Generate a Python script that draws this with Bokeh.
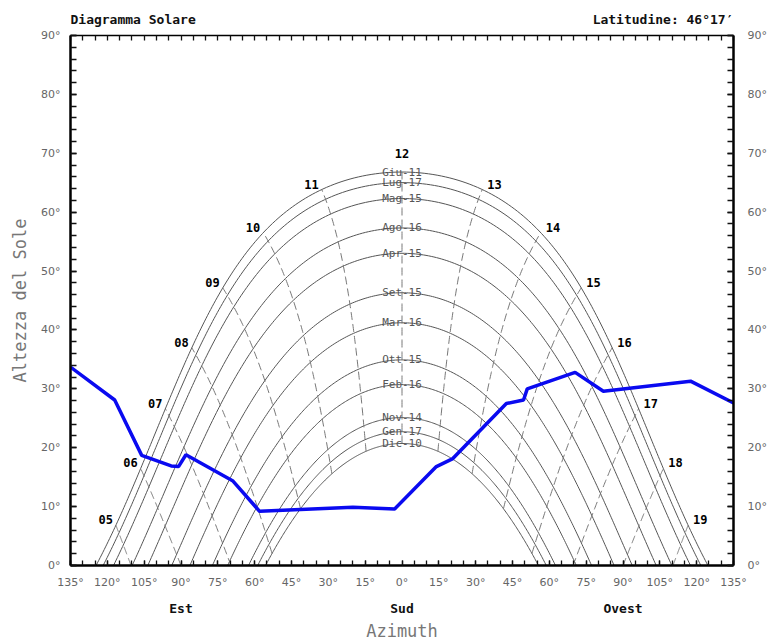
import numpy as np
from bokeh.plotting import figure
from bokeh.models import (Range1d, LinearAxis, SingleIntervalTicker, FixedTicker)
from bokeh.embed import file_html
from bokeh.resources import INLINE
from bokeh.core.properties import value

# ---------------- data ----------------
LATITUDE_DEG = 46 + 17 / 60.0
title_left = "Diagramma Solare"
title_right = "Latitudine: 46°17′"

date_labels = ["Giu-11", "Lug-17", "Mag-15", "Ago-16", "Apr-15", "Set-15",
               "Mar-16", "Ott-15", "Feb-16", "Nov-14", "Gen-17", "Dic-10"]
declinations = [23.1, 21.3, 18.6, 13.6, 9.3, 2.6, -2.5, -8.8, -13.0, -18.6, -21.0, -23.0]

hours = [5, 6, 7, 8, 9, 10, 11, 12, 13, 14, 15, 16, 17, 18, 19]
hour_labels = ["05", "06", "07", "08", "09", "10", "11", "12", "13", "14", "15", "16", "17", "18", "19"]

# horizon profile (azimuth from South, East negative; altitude in deg)
horizon_az = [-135, -117, -106, -94, -91, -88, -69, -58, -20, -3, 14, 20.5, 42.5, 49.5, 51, 70.5, 82, 117.5, 135]
horizon_alt = [33.7, 28.1, 18.7, 16.9, 16.8, 18.8, 14.4, 9.2, 9.9, 9.6, 16.8, 18.1, 27.5, 28.1, 30.0, 32.8, 29.6, 31.3, 27.6]

x_ticks = list(range(-135, 136, 15))
y_ticks = list(range(0, 91, 10))
cardinal_ticks = [-90, 0, 90]
cardinal_labels = ["Est", "Sud", "Ovest"]

# ---------------- solar geometry ----------------
phi = np.radians(LATITUDE_DEG)


def sun_pos(dec_deg, ha_deg):
    d = np.radians(dec_deg)
    h = np.radians(ha_deg)
    alt = np.degrees(np.arcsin(np.sin(phi) * np.sin(d) + np.cos(phi) * np.cos(d) * np.cos(h)))
    az = np.degrees(np.arctan2(np.sin(h), np.sin(phi) * np.cos(h) - np.cos(phi) * np.tan(d)))
    return az, alt


curve_xs, curve_ys = [], []
for dec in declinations:
    h0 = np.degrees(np.arccos(-np.tan(phi) * np.tan(np.radians(dec))))
    ha = np.linspace(-h0, h0, 301)
    az, alt = sun_pos(dec, ha)
    curve_xs.append(list(az))
    curve_ys.append(list(np.maximum(alt, 0)))

dmin, dmax = min(declinations), max(declinations)
hour_xs, hour_ys = [], []
lab_m, lab_a, lab_n = {"x": [], "y": [], "t": []}, {"x": [], "y": [], "t": []}, {"x": [], "y": [], "t": []}
for hr, lab in zip(hours, hour_labels):
    ha = 15.0 * (hr - 12)
    d0 = np.degrees(np.arctan(-np.cos(np.radians(ha)) / np.tan(phi)))
    lo = max(dmin, d0)
    if lo >= dmax:
        continue
    decs = np.linspace(lo, dmax, 120)
    az, alt = sun_pos(decs, ha)
    hour_xs.append(list(az))
    hour_ys.append(list(np.maximum(alt, 0)))
    ax_, al_ = sun_pos(dmax, ha)
    tgt = lab_m if hr < 12 else (lab_a if hr > 12 else lab_n)
    tgt["x"].append(float(ax_))
    tgt["y"].append(float(al_))
    tgt["t"].append(lab)

noon_alt = [float(sun_pos(d, 0.0)[1]) for d in declinations]

# ---------------- figure ----------------
MONO = "DejaVu Sans Mono"
SANS = "DejaVu Sans"
W, H = 770, 644
B_LEFT, B_RIGHT, B_TOP, B_BOTTOM = 70, 37, 35, 79
FRAME_W = W - B_LEFT - B_RIGHT

p = figure(width=W, height=H, x_range=Range1d(-135, 135), y_range=Range1d(0, 90),
           output_backend="svg", toolbar_location=None,
           x_axis_location=None, y_axis_location=None,
           min_border_left=B_LEFT, min_border_right=B_RIGHT,
           min_border_top=B_TOP, min_border_bottom=B_BOTTOM)
p.outline_line_color = None
p.xgrid.visible = False
p.ygrid.visible = False
p.background_fill_color = "white"
p.border_fill_color = "white"


def style_axis(ax, tick_len=6, lw=2):
    ax.axis_line_color = "black"
    ax.axis_line_width = lw
    ax.major_tick_in = tick_len
    ax.major_tick_out = 0
    ax.minor_tick_in = tick_len
    ax.minor_tick_out = 0
    ax.major_tick_line_color = "#111111"
    ax.minor_tick_line_color = "#111111"
    ax.major_tick_line_width = 1.3
    ax.minor_tick_line_width = 1.3
    ax.major_label_text_font = SANS
    ax.major_label_text_font_size = "11px"
    ax.major_label_text_color = "#666666"


x_over = {v: f"{abs(v)}°" for v in x_ticks}
y_over = {v: f"{v}°" for v in y_ticks}

left = LinearAxis(ticker=SingleIntervalTicker(interval=10, num_minor_ticks=5))
style_axis(left, 6, 2.5)
left.major_label_overrides = y_over
left.major_label_standoff = 10
left.axis_label = "Altezza del Sole"
left.axis_label_text_font = MONO
left.axis_label_text_font_size = "17px"
left.axis_label_text_font_style = "normal"
left.axis_label_text_color = "#777777"
left.axis_label_standoff = 8
p.add_layout(left, "left")

right = LinearAxis(ticker=SingleIntervalTicker(interval=10, num_minor_ticks=5))
style_axis(right, 6, 2.5)
right.major_label_overrides = y_over
right.major_label_standoff = 14
p.add_layout(right, "right")

bottom = LinearAxis(ticker=SingleIntervalTicker(interval=15, num_minor_ticks=3))
style_axis(bottom, 5, 2.5)
bottom.major_label_overrides = x_over
bottom.major_label_standoff = 10
p.add_layout(bottom, "below")

card = LinearAxis(ticker=FixedTicker(ticks=cardinal_ticks, minor_ticks=[]))
card.major_label_overrides = dict(zip(cardinal_ticks, cardinal_labels))
card.axis_line_color = None
card.major_tick_line_color = None
card.minor_tick_line_color = None
card.major_tick_in = 0
card.major_tick_out = 0
card.minor_tick_in = 0
card.minor_tick_out = 0
card.major_label_standoff = 9
card.major_label_text_font = MONO
card.major_label_text_font_style = "bold"
card.major_label_text_font_size = "13px"
card.major_label_text_color = "#111111"
card.axis_label = "Azimuth"
card.axis_label_text_font = MONO
card.axis_label_text_font_size = "17px"
card.axis_label_text_font_style = "normal"
card.axis_label_text_color = "#777777"
card.axis_label_standoff = 2
p.add_layout(card, "below")

# top axis: minor ticks every 5 deg, the two header texts as its labels
title_px = 0.602 * 13
px_per_deg = FRAME_W / 270.0
c_left = -135 + len(title_left) * title_px / 2 / px_per_deg
c_right = 135 - len(title_right) * title_px / 2 / px_per_deg
top = LinearAxis(ticker=FixedTicker(ticks=[c_left, c_right], minor_ticks=list(range(-135, 136, 5))))
style_axis(top, 5, 1.5)
top.major_tick_in = 0
top.major_label_overrides = {c_left: title_left, c_right: title_right}
top.major_label_text_font = MONO
top.major_label_text_font_style = "bold"
top.major_label_text_font_size = "13px"
top.major_label_text_color = "#111111"
top.major_label_standoff = 9
p.add_layout(top, "above")

# date curves
p.multi_line(xs=curve_xs, ys=curve_ys, line_color="#555555", line_width=1)
# hour lines
p.multi_line(xs=hour_xs, ys=hour_ys, line_color="#777777", line_width=1, line_dash="8 4")

# date labels
p.text(x=[0.0] * len(date_labels), y=noon_alt, text=date_labels,
       text_font=value(MONO), text_font_size="11px", text_color="#555555",
       text_align="center", text_baseline="alphabetic")

# hour labels
p.text(x=lab_m["x"], y=lab_m["y"], text=lab_m["t"], text_font=value(MONO), text_font_style="bold",
       text_font_size="12px", text_color="black", text_align="right", text_baseline="bottom",
       x_offset=-3, y_offset=-1)
p.text(x=lab_a["x"], y=lab_a["y"], text=lab_a["t"], text_font=value(MONO), text_font_style="bold",
       text_font_size="12px", text_color="black", text_align="left", text_baseline="bottom",
       x_offset=5, y_offset=-1)
p.text(x=lab_n["x"], y=lab_n["y"], text=lab_n["t"], text_font=value(MONO), text_font_style="bold",
       text_font_size="12px", text_color="black", text_align="center", text_baseline="bottom",
       y_offset=-14)

# horizon
p.line(horizon_az, horizon_alt, line_color="#0a0af0", line_width=3.5)

open("out.html", "w").write(file_html(p, INLINE))
